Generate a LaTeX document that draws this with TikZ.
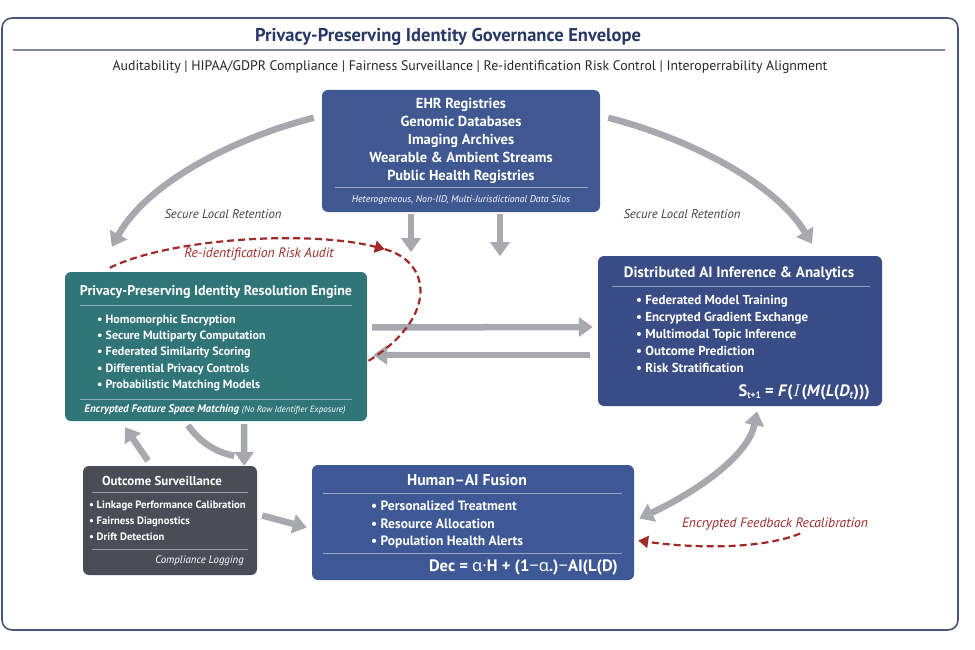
\documentclass[tikz,border=0pt]{standalone}
\usepackage{fontspec}
\setmainfont{PT Sans}
\newfontfamily\grkfont{Noto Sans}
\usetikzlibrary{arrows.meta}

\definecolor{navy}{RGB}{40,56,102}
\definecolor{srcblue}{RGB}{64,88,146}
\definecolor{aiblue}{RGB}{58,76,134}
\definecolor{fusblue}{RGB}{62,88,150}
\definecolor{resteal}{RGB}{48,118,120}
\definecolor{slate}{RGB}{74,77,86}
\definecolor{flowgray}{RGB}{168,169,175}
\definecolor{auditred}{RGB}{158,42,42}

\tikzset{
  box/.style={rounded corners=6pt, inner sep=0pt},
  rule/.style={white, opacity=0.45, line width=0.8pt},
  flow/.style={flowgray, line width=6.5pt, -{Triangle[width=19pt,length=14pt]}},
  flowboth/.style={flowgray, line width=6.5pt, {Triangle[width=19pt,length=14pt]}-{Triangle[width=19pt,length=14pt]}},
  audit/.style={auditred, line width=2.2pt, dash pattern=on 7pt off 4pt},
  note/.style={inner sep=0pt, font=\itshape\fontsize{12.7}{14}\selectfont, text=black!75},
  rednote/.style={inner sep=0pt, font=\itshape\fontsize{13.6}{15}\selectfont, text=auditred},
  boxtitle/.style={inner sep=0pt, anchor=base, text=white},
  boxlist/.style={inner sep=0pt, anchor=north west, align=left, text=white},
}

\begin{document}
\begin{tikzpicture}[x=1pt, y=-1pt]
  \useasboundingbox (0,0) rectangle (975,650);
  % envelope
  \draw[navy!85, line width=1.6pt, rounded corners=10pt] (2,18) rectangle (958,630);
  \node[inner sep=0pt, text=navy, font=\bfseries\fontsize{18.5}{20}\selectfont] (title) at (448,37) {Privacy-Preserving Identity Governance Envelope};
  \draw[navy!60, line width=1.2pt] (13,50) -- (945,50);
  \node[inner sep=0pt, text=black!85, font=\fontsize{13.8}{15}\selectfont] (sub) at (470,67) {Auditability | HIPAA/GDPR Compliance | Fairness Surveillance | Re-identification Risk Control | Interoperrability Alignment};

  % boxes
  \node[box, fill=srcblue, minimum width=278pt, minimum height=122pt] (src) at (461,151) {};
  \node[box, fill=resteal, minimum width=302pt, minimum height=149pt] (res) at (216,346.5) {};
  \node[box, fill=aiblue, minimum width=284pt, minimum height=150pt] (ai) at (740,331) {};
  \node[box, fill=slate, minimum width=174pt, minimum height=109pt] (mon) at (170,520.5) {};
  \node[box, fill=fusblue, minimum width=322pt, minimum height=115pt] (fus) at (473,522.5) {};

  % data sources
  \node[inner sep=0pt, anchor=north, align=center, text=white, font=\bfseries\fontsize{14.5}{18}\selectfont] (srclist) at (461,97.6) {EHR Registries\\Genomic Databases\\Imaging Archives\\Wearable \& Ambient Streams\\Public Health Registries};
  \draw[rule] (335,187) -- (588,187);
  \node[boxtitle, font=\itshape\fontsize{9.8}{11}\selectfont] (srcnote) at (461,202) {Heterogeneous, Non-IID, Multi-Jurisdictional Data Silos};

  % identity resolution
  \node[boxtitle, font=\bfseries\fontsize{14}{16}\selectfont] (restitle) at (216,295.6) {Privacy-Preserving Identity Resolution Engine};
  \draw[rule] (80,305) -- (352,305);
  \node[boxlist, font=\bfseries\fontsize{12}{16.3}\selectfont] (reslist) at (97,314.6) {\textbullet{} Homomorphic Encryption\\\textbullet{} Secure Multiparty Computation\\\textbullet{} Federated Similarity Scoring\\\textbullet{} Differential Privacy Controls\\\textbullet{} Probabilistic Matching Models};
  \draw[rule] (80,399) -- (352,399);
  \node[boxtitle] (resnote) at (215,412.5) {{\bfseries\itshape\fontsize{11}{12}\selectfont Encrypted Feature Space Matching} {\itshape\fontsize{9}{10}\selectfont (No Raw Identifier Exposure)}};

  % inference
  \node[boxtitle, font=\bfseries\fontsize{15}{17}\selectfont] (aititle) at (739,277) {Distributed AI Inference \& Analytics};
  \draw[rule] (612,286) -- (870,286);
  \node[boxlist, font=\bfseries\fontsize{13}{17}\selectfont] (ailist) at (636,295.2) {\textbullet{} Federated Model Training\\\textbullet{} Encrypted Gradient Exchange\\\textbullet{} Multimodal Topic Inference\\\textbullet{} Outcome Prediction\\\textbullet{} Risk Stratification};
  \node[boxtitle, anchor=base east, font=\bfseries\fontsize{16.5}{18}\selectfont] (aieq) at (870,396.5) {S\raisebox{-1.5pt}{\fontsize{9.5}{9.5}\selectfont t+1} = \textit{F}($I$(\textit{M}(\textit{L}(\textit{D}\raisebox{-1.5pt}{\fontsize{10.5}{10.5}\selectfont\textit{t}})))};

  % surveillance
  \node[boxtitle, font=\bfseries\fontsize{12.9}{15}\selectfont] (montitle) at (162,485.3) {Outcome Surveillance};
  \draw[rule] (92,492) -- (248,492);
  \node[boxlist, font=\bfseries\fontsize{10.7}{16}\selectfont] (monlist) at (89,501) {\textbullet{} Linkage Performance Calibration\\\textbullet{} Fairness Diagnostics\\\textbullet{} Drift Detection};
  \draw[rule] (92,549) -- (248,549);
  \node[boxtitle, anchor=base east, font=\itshape\fontsize{10.8}{12}\selectfont] (monnote) at (244,563.5) {Compliance Logging};

  % fusion
  \node[boxtitle, font=\bfseries\fontsize{15.7}{17}\selectfont] (fustitle) at (467,485) {Human–AI Fusion};
  \draw[rule] (323,493) -- (622,493);
  \node[boxlist, font=\bfseries\fontsize{13.5}{17.5}\selectfont] (fuslist) at (371,501) {\textbullet{} Personalized Treatment\\\textbullet{} Resource Allocation\\\textbullet{} Population Health Alerts};
  \draw[rule] (323,553) -- (622,553);
  \node[boxtitle, anchor=base east, font=\bfseries\fontsize{16.5}{18}\selectfont] (fuseq) at (618,571.5) {Dec = {\grkfont α·}H + (1{\grkfont −α}.){\grkfont −}AI(L(D)};

  % flows
  \draw[flow] ([xshift=-8pt,yshift=-28pt]src.north west) .. controls (245,135) and (150,178) .. ([xshift=47pt,yshift=25pt]res.north west);
  \draw[flow] ([xshift=8pt,yshift=-28pt]src.north east) .. controls (677,135) and (772,178) .. ([xshift=72pt,yshift=12pt]ai.north);
  \node[note] (keepl) at (223,214) {Secure Local Retention};
  \node[note] (keepr) at (682,214) {Secure Local Retention};
  \draw[flow] ([xshift=-50pt,yshift=-2pt]src.south) -- ([xshift=-50pt,yshift=-40pt]src.south);
  \draw[flow] ([xshift=39pt,yshift=-2pt]src.south) -- ([xshift=39pt,yshift=-44pt]src.south);
  \draw[flow] ([xshift=5pt,yshift=19pt]res.east) -- ([xshift=-5pt,yshift=4pt]ai.west);
  \draw[flow] ([xshift=-8pt,yshift=-24pt]ai.west) -- ([xshift=6pt,yshift=-8.5pt]res.east);
  \draw[flow] ([xshift=-22pt,yshift=5pt]mon.north) -- ([xshift=-91pt,yshift=-6pt]res.south);
  \draw[flowgray, line width=6.5pt] ([xshift=-28pt,yshift=-4pt]res.south) .. controls (198,440) and (214,452) .. ([xshift=-23pt,yshift=10pt]mon.north east);
  \draw[flow] ([xshift=28pt,yshift=-3pt]res.south) -- ([xshift=-13pt]mon.north east);
  \draw[flow] ([xshift=5pt,yshift=5pt]mon.east) -- ([xshift=-5pt,yshift=-5pt]fus.west);
  \draw[flowboth] ([xshift=5pt,yshift=4pt]fus.east) .. controls (690,495) and (748,458) .. ([xshift=17pt,yshift=-5pt]ai.south);

  % audit loops
  \coordinate (auditmid) at ([xshift=63pt,yshift=-37pt]src.south west);
  \draw[audit, -{Triangle[width=12pt,length=10pt]}] ([xshift=45pt,yshift=4pt]res.north west) .. controls (170,238) and (310,230) .. (auditmid);
  \draw[audit] (auditmid) .. controls (432,262) and (438,318) .. ([xshift=1pt,yshift=-14.5pt]res.east);
  \node[rednote] (auditlbl) at (259,254) {Re-identification Risk Audit};
  \draw[audit, -{Triangle[width=12pt,length=10pt]}] ([xshift=166pt,yshift=-11pt]fus.east) .. controls (760,550) and (690,548) .. ([xshift=4pt,yshift=-18pt]fus.east);
  \node[rednote] (feedlbl) at (775,524) {Encrypted Feedback Recalibration};
\end{tikzpicture}
\end{document}
